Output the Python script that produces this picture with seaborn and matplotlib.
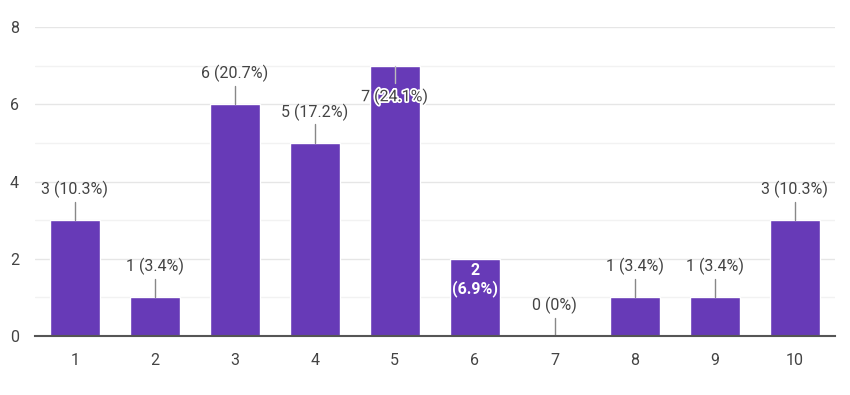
import numpy as np
import pandas as pd
import matplotlib.pyplot as plt
import matplotlib.patheffects as pe
import seaborn as sns

# data
ratings = ['1', '2', '3', '4', '5', '6', '7', '8', '9', '10']
counts = [3, 1, 6, 5, 7, 2, 0, 1, 1, 3]
percents = ['10.3%', '3.4%', '20.7%', '17.2%', '24.1%', '6.9%', '0%', '3.4%', '3.4%', '10.3%']

df = pd.DataFrame({'rating': ratings, 'count': counts})

sns.set_style('white')
plt.rcParams['font.family'] = ['Roboto', 'DejaVu Sans']

bar_color = '#673ab7'
text_color = '#444444'
label_size = 11.5

fig = plt.figure(figsize=(8.5, 3.95), dpi=100)
ax = fig.add_axes([0.041, 0.149, 0.941, 0.783])

sns.barplot(data=df, x='rating', y='count', color=bar_color, width=0.62,
            saturation=1, ax=ax, zorder=3)

ax.set_ylim(0, 8)
ax.set_xlim(-0.5, 9.5)
ax.set_yticks([0, 2, 4, 6, 8])
ax.set_yticks([1, 3, 5, 7], minor=True)
ax.grid(axis='y', which='major', color='#e6e6e6', linewidth=1, zorder=0)
ax.grid(axis='y', which='minor', color='#f2f2f2', linewidth=1, zorder=0)
ax.set_axisbelow(True)
for s in ['top', 'right', 'left']:
    ax.spines[s].set_visible(False)
ax.spines['bottom'].set_color('#555555')
ax.spines['bottom'].set_linewidth(1.5)
ax.spines['bottom'].set_zorder(5)
ax.tick_params(axis='both', which='both', length=0, labelsize=label_size,
               labelcolor=text_color)
ax.tick_params(axis='x', pad=12)
ax.tick_params(axis='y', pad=18)
for t in ax.get_yticklabels():
    t.set_horizontalalignment('left')
ax.set_xlabel('')
ax.set_ylabel('')

for i, (c, p) in enumerate(zip(counts, percents)):
    if c == 2:
        ax.text(i, c - 0.55, f'{c}\n({p})', ha='center', va='center',
                color='white', fontweight='bold', fontsize=label_size,
                linespacing=1.15, zorder=6)
    elif c == 7:
        ax.plot([i, i], [c, c - 0.45], color='#bbbbbb', linewidth=1, zorder=4)
        ax.text(i, c - 0.8, f'{c} ({p})', ha='center', va='center',
                color=text_color, fontsize=label_size, zorder=6,
                path_effects=[pe.withStroke(linewidth=2.5, foreground='white')])
    else:
        ax.plot([i, i], [c, c + 0.48], color='#888888', linewidth=1, zorder=4)
        ax.text(i, c + 0.8, f'{c} ({p})', ha='center', va='center',
                color=text_color, fontsize=label_size, zorder=6)

fig.savefig('out.png', dpi=100)
